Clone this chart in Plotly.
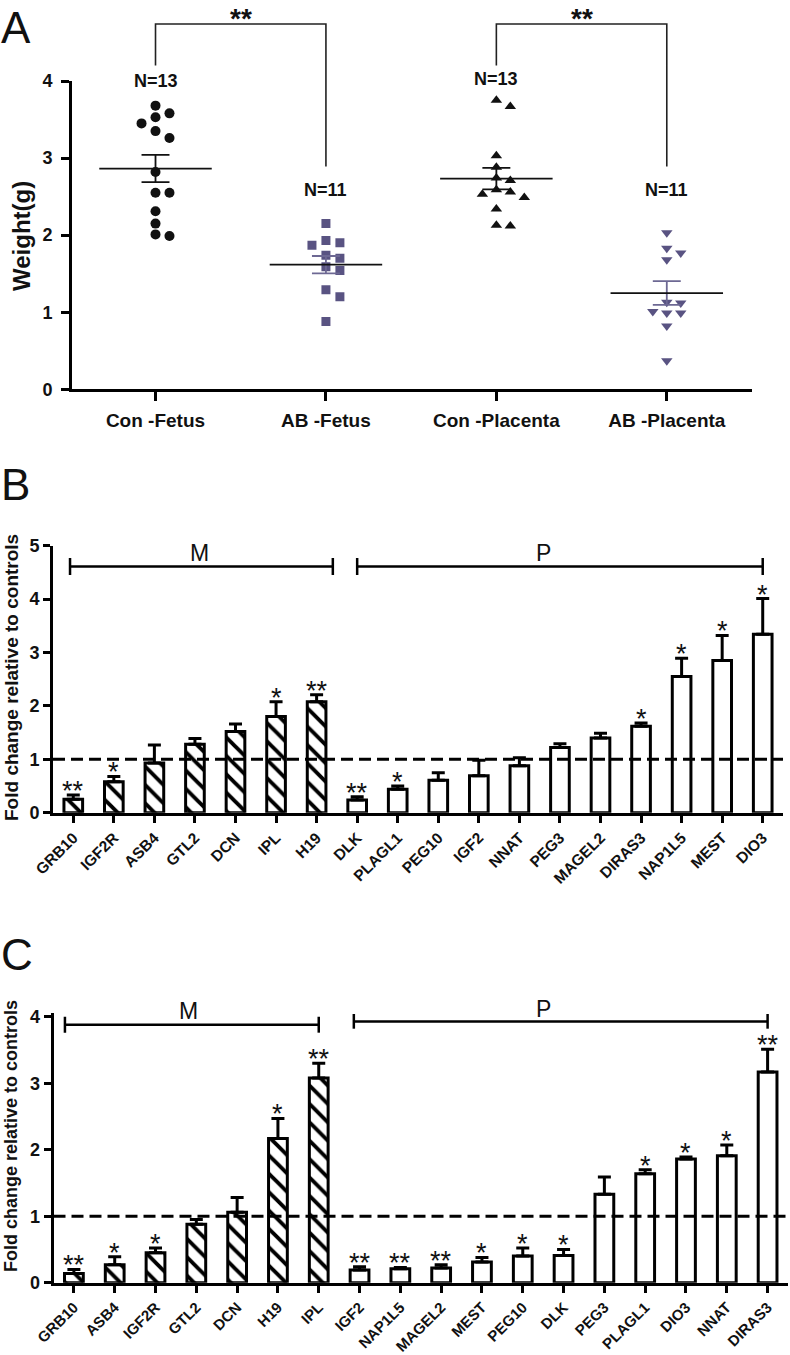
import numpy as np
import plotly.graph_objects as go

W, H = 790, 1355

# ---------------- Panel A data ----------------
groups_a = ["Con -Fetus", "AB -Fetus", "Con -Placenta", "AB -Placenta"]
con_fetus = [3.68, 3.58, 3.53, 3.45, 3.35, 3.26, 2.82, 2.55, 2.55, 2.31, 2.15, 2.01, 1.99]
ab_fetus = [2.15, 1.93, 1.90, 1.87, 1.74, 1.70, 1.59, 1.54, 1.29, 1.20, 0.88]
con_placenta = [3.75, 3.67, 3.03, 2.88, 2.74, 2.71, 2.59, 2.56, 2.53, 2.49, 2.34, 2.13, 2.12]
ab_placenta = [2.03, 1.83, 1.77, 1.68, 1.13, 1.12, 1.01, 0.99, 0.99, 0.82, 0.37]
a_ticks = [0, 1, 2, 3, 4]

# ---------------- Panel B data ----------------
genes_b = ["GRB10", "IGF2R", "ASB4", "GTL2", "DCN", "IPL", "H19",
           "DLK", "PLAGL1", "PEG10", "IGF2", "NNAT", "PEG3", "MAGEL2",
           "DIRAS3", "NAP1L5", "MEST", "DIO3"]
fold_b = [0.25, 0.58, 0.93, 1.28, 1.52, 1.80, 2.08,
          0.24, 0.44, 0.61, 0.69, 0.88, 1.22, 1.40,
          1.62, 2.55, 2.85, 3.34]
sem_b = [0.08, 0.10, 0.34, 0.11, 0.14, 0.28, 0.13,
         0.06, 0.06, 0.14, 0.29, 0.15, 0.07, 0.09,
         0.06, 0.34, 0.47, 0.67]
sig_b = ["**", "*", "", "", "", "*", "**",
         "**", "*", "", "", "", "", "",
         "*", "*", "*", "*"]
n_maternal_b = 7

# ---------------- Panel C data ----------------
genes_c = ["GRB10", "ASB4", "IGF2R", "GTL2", "DCN", "H19", "IPL",
           "IGF2", "NAP1L5", "MAGEL2", "MEST", "PEG10", "DLK", "PEG3",
           "PLAGL1", "DIO3", "NNAT", "DIRAS3"]
fold_c = [0.14, 0.27, 0.45, 0.88, 1.06, 2.17, 3.08,
          0.19, 0.21, 0.22, 0.31, 0.40, 0.41, 1.33,
          1.64, 1.86, 1.91, 3.17]
sem_c = [0.06, 0.12, 0.07, 0.07, 0.22, 0.30, 0.22,
         0.05, 0.02, 0.05, 0.07, 0.12, 0.09, 0.26,
         0.06, 0.03, 0.16, 0.34]
sig_c = ["**", "*", "*", "", "", "*", "**",
         "**", "**", "**", "*", "*", "*", "",
         "*", "*", "*", "**"]
n_maternal_c = 7

FONT = "Arial, Liberation Sans, Helvetica, sans-serif"
BLACK = "#111111"
PURPLE = "#595382"
PURPLE_LINE = "#6d6893"


def fx(px):
    return px / W


def fy(py):
    return 1 - py / H


def swarm(vals, thr=0.13):
    vals = np.asarray(vals, float)
    order = np.argsort(-vals, kind="stable")
    offs = np.zeros(len(vals))
    placed = []
    for idx in order:
        v = vals[idx]
        for c in [0, 1, -1, 2, -2]:
            if all(pc != c or abs(v - pv) >= thr for pv, pc in placed):
                offs[idx] = c
                placed.append((v, c))
                break
    return offs


# panel geometry (pixels)
A_X = (72, 752)
A_Y = (389.3, 81)          # value 0, value 4
B_X = (53, 783)
B_Y = (812.7, 545.7)       # value 0, value 5
C_X = (53.5, 788)
C_Y = (1282.7, 1013.4)     # value 0, value 4.05
C_RANGE = (0, 4.05)


def c_paper_y(v):
    lo, hi = C_RANGE
    return fy(C_Y[0]) + (v - lo) / (hi - lo) * (fy(C_Y[1]) - fy(C_Y[0]))


fig = go.Figure()

# ---------------- Panel A ----------------
series_a = [con_fetus, ab_fetus, con_placenta, ab_placenta]
symbols = ["circle", "square", "triangle-up", "triangle-down"]
sizes = [10, 9, 10, 10]
mcolors = [BLACK, PURPLE, BLACK, PURPLE]
semcolors = [BLACK, PURPLE_LINE, BLACK, PURPLE_LINE]
step = 0.082
for i, vals in enumerate(series_a):
    offs = swarm(vals)
    fig.add_trace(go.Scatter(
        x=i + offs * step, y=vals, mode="markers", xaxis="x", yaxis="y",
        marker=dict(symbol=symbols[i], size=sizes[i], color=mcolors[i], line=dict(width=0)),
        showlegend=False, hoverinfo="skip"))
    arr = np.asarray(vals)
    m = arr.mean()
    s = arr.std(ddof=1) / np.sqrt(len(arr))
    fig.add_trace(go.Scatter(
        x=[i - step, i + step, None, i, i, None, i - step, i + step],
        y=[m + s, m + s, None, m + s, m - s, None, m - s, m - s],
        mode="lines", xaxis="x", yaxis="y",
        line=dict(color=semcolors[i], width=1.8), showlegend=False, hoverinfo="skip"))
    fig.add_trace(go.Scatter(
        x=[i - 0.33, i + 0.33], y=[m, m], mode="lines", xaxis="x", yaxis="y",
        line=dict(color=BLACK, width=1.8), showlegend=False, hoverinfo="skip"))

# significance brackets (overlay subplot covering space above the axes)
brackets_a = [(0, 1, 4.20, 2.89), (2, 3, 4.20, 2.89)]
top_a = 4.74
for (g1, g2, y1, y2) in brackets_a:
    fig.add_trace(go.Scatter(
        x=[g1, g1, g2, g2], y=[y1, top_a, top_a, y2], mode="lines",
        xaxis="x4", yaxis="y4", line=dict(color="#222222", width=1.6),
        showlegend=False, hoverinfo="skip"))

annotations = []
for (g1, g2, y1, y2) in brackets_a:
    annotations.append(dict(x=(g1 + g2) / 2, y=top_a, xref="x4", yref="y4",
                            text="**", showarrow=False, yanchor="bottom", yshift=-11,
                            borderpad=0,
                            font=dict(family=FONT, size=28, color=BLACK, weight="bold")))
n_label_y = [4.00, 2.58, 4.02, 2.59]
for i, vals in enumerate(series_a):
    annotations.append(dict(x=i, y=n_label_y[i], xref="x4", yref="y4",
                            text="N=%d" % len(vals), showarrow=False, yanchor="middle",
                            font=dict(family=FONT, size=18, color=BLACK, weight="bold")))


# ---------------- Panels B and C ----------------
def add_bar_panel(xa, ya, genes, fold, sem, sig, nmat, mbr, pbr, mlab, plab,
                  label_paper=None, star_size=27):
    n = len(genes)
    xs = list(range(n))
    fig.add_trace(go.Bar(
        x=xs, y=fold, xaxis=xa, yaxis=ya, width=0.46,
        marker=dict(color="white", line=dict(color="black", width=3),
                    pattern=dict(shape=["\\" if i < nmat else "" for i in xs],
                                 fgcolor="black", bgcolor="white", fgopacity=1,
                                 size=13, solidity=0.3)),
        error_y=dict(type="data", array=sem, arrayminus=[0] * n, symmetric=False,
                     color="black", thickness=3, width=6.5),
        showlegend=False, hoverinfo="skip"))
    # reference line at 1
    fig.add_trace(go.Scatter(
        x=[-0.5, n - 0.5], y=[1, 1], mode="lines", xaxis=xa, yaxis=ya,
        line=dict(color="black", width=3, dash="12px,6px"),
        showlegend=False, hoverinfo="skip"))
    # M / P brackets
    for (x0, x1, yb, tk) in (mbr, pbr):
        fig.add_trace(go.Scatter(
            x=[x0, x0, None, x0, x1, None, x1, x1],
            y=[yb - tk, yb + tk, None, yb, yb, None, yb - tk, yb + tk],
            mode="lines", xaxis=xa, yaxis=ya, line=dict(color="black", width=2.5),
            showlegend=False, hoverinfo="skip"))
    for (lx, ly, t) in (mlab + ("M",), plab + ("P",)):
        if label_paper is None:
            yref, yy = ya, ly
        else:
            yref, yy = "paper", label_paper(ly)
        annotations.append(dict(x=lx, y=yy, xref=xa, yref=yref, text=t, showarrow=False,
                                yanchor="middle",
                                font=dict(family=FONT, size=23, color=BLACK)))
    for i in xs:
        if sig[i]:
            annotations.append(dict(x=i, y=fold[i] + sem[i], xref=xa, yref=ya,
                                    text=sig[i], showarrow=False, yanchor="bottom",
                                    yshift=-13,
                                    font=dict(family=FONT, size=star_size, color=BLACK)))


add_bar_panel("x2", "y2", genes_b, fold_b, sem_b, sig_b, n_maternal_b,
              (-0.08, 6.4, 4.61, 0.16), (7.0, 17.0, 4.61, 0.16),
              (3.12, 4.86), (11.6, 4.86))
add_bar_panel("x3", "y3", genes_c, fold_c, sem_c, sig_c, n_maternal_c,
              (-0.22, 6.0, 3.88, 0.12), (6.86, 17.0, 3.93, 0.11),
              (2.8, 4.09), (11.5, 4.11), label_paper=c_paper_y)

# panel letters
for letter, top in (("A", 1), ("B", 458), ("C", 928)):
    annotations.append(dict(x=fx(-1), y=fy(top), xref="paper", yref="paper", text=letter,
                            showarrow=False, xanchor="left", yanchor="top",
                            font=dict(family=FONT, size=44, color=BLACK)))

# axis titles
annotations.append(dict(x=fx(22), y=fy(236), xref="paper", yref="paper", text="Weight(g)",
                        showarrow=False, textangle=-90, xanchor="center", yanchor="middle",
                        font=dict(family=FONT, size=24, color=BLACK, weight="bold")))
annotations.append(dict(x=fx(11), y=fy(678), xref="paper", yref="paper",
                        text="Fold change relative to controls",
                        showarrow=False, textangle=-90, xanchor="center", yanchor="middle",
                        font=dict(family=FONT, size=19, color=BLACK, weight="bold")))
annotations.append(dict(x=fx(11), y=fy(1136), xref="paper", yref="paper",
                        text="Fold change relative to controls",
                        showarrow=False, textangle=-90, xanchor="center", yanchor="middle",
                        font=dict(family=FONT, size=18, color=BLACK, weight="bold")))

axis_common = dict(showgrid=False, zeroline=False, showline=True, linecolor="black",
                   ticks="outside", tickcolor="black", fixedrange=True, automargin=False)

fig.update_layout(
    width=W, height=H, margin=dict(l=0, r=0, t=0, b=0, pad=0, autoexpand=False),
    paper_bgcolor="white", plot_bgcolor="rgba(0,0,0,0)",
    showlegend=False, annotations=annotations,
    # Panel A
    xaxis=dict(domain=[fx(A_X[0]), fx(A_X[1])], range=[-0.49, 3.5], anchor="y",
               tickvals=[0, 1, 2, 3], ticktext=groups_a, linewidth=3, ticklen=9, tickwidth=2.5,
               tickfont=dict(family=FONT, size=19, color=BLACK, weight="bold"),
               ticklabelstandoff=3, **axis_common),
    yaxis=dict(domain=[fy(A_Y[0]), fy(A_Y[1])], range=[0, 4], anchor="x",
               tickvals=a_ticks, linewidth=3, ticklen=8, tickwidth=2.5,
               tickfont=dict(family=FONT, size=18, color=BLACK, weight="bold"),
               ticklabelstandoff=5, **axis_common),
    xaxis4=dict(domain=[fx(A_X[0]), fx(A_X[1])], range=[-0.49, 3.5], anchor="y4", visible=False,
                fixedrange=True),
    yaxis4=dict(domain=[fy(A_Y[0]), 1.0], range=[0, A_Y[0] / ((A_Y[0] - A_Y[1]) / 4)],
                anchor="x4", visible=False, fixedrange=True),
    # Panel B
    xaxis2=dict(domain=[fx(B_X[0]), fx(B_X[1])], range=[-0.5, 17.5], anchor="y2",
                tickvals=list(range(len(genes_b))), ticktext=genes_b, tickangle=-45,
                linewidth=3, ticklen=7, tickwidth=3,
                tickfont=dict(family=FONT, size=15.5, color=BLACK, weight="bold"),
                **axis_common),
    yaxis2=dict(domain=[fy(B_Y[0]), fy(B_Y[1])], range=[0, 5], anchor="x2",
                tickvals=[0, 1, 2, 3, 4, 5], linewidth=3, ticklen=7, tickwidth=3,
                tickfont=dict(family=FONT, size=18, color=BLACK, weight="bold"),
                **axis_common),
    # Panel C
    xaxis3=dict(domain=[fx(C_X[0]), fx(C_X[1])], range=[-0.5, 17.5], anchor="y3",
                tickvals=list(range(len(genes_c))), ticktext=genes_c, tickangle=-45,
                linewidth=3, ticklen=7, tickwidth=3,
                tickfont=dict(family=FONT, size=15, color=BLACK, weight="bold"),
                **axis_common),
    yaxis3=dict(domain=[fy(C_Y[0]), fy(C_Y[1])], range=list(C_RANGE), anchor="x3",
                tickvals=[0, 1, 2, 3, 4], linewidth=3, ticklen=7, tickwidth=3,
                tickfont=dict(family=FONT, size=18, color=BLACK, weight="bold"),
                **axis_common),
)

fig.write_html(
    "out.html",
    config={"displayModeBar": False},
    post_script="document.body.style.margin='0';document.body.style.overflow='hidden';"
                "document.documentElement.style.overflow='hidden';",
)
